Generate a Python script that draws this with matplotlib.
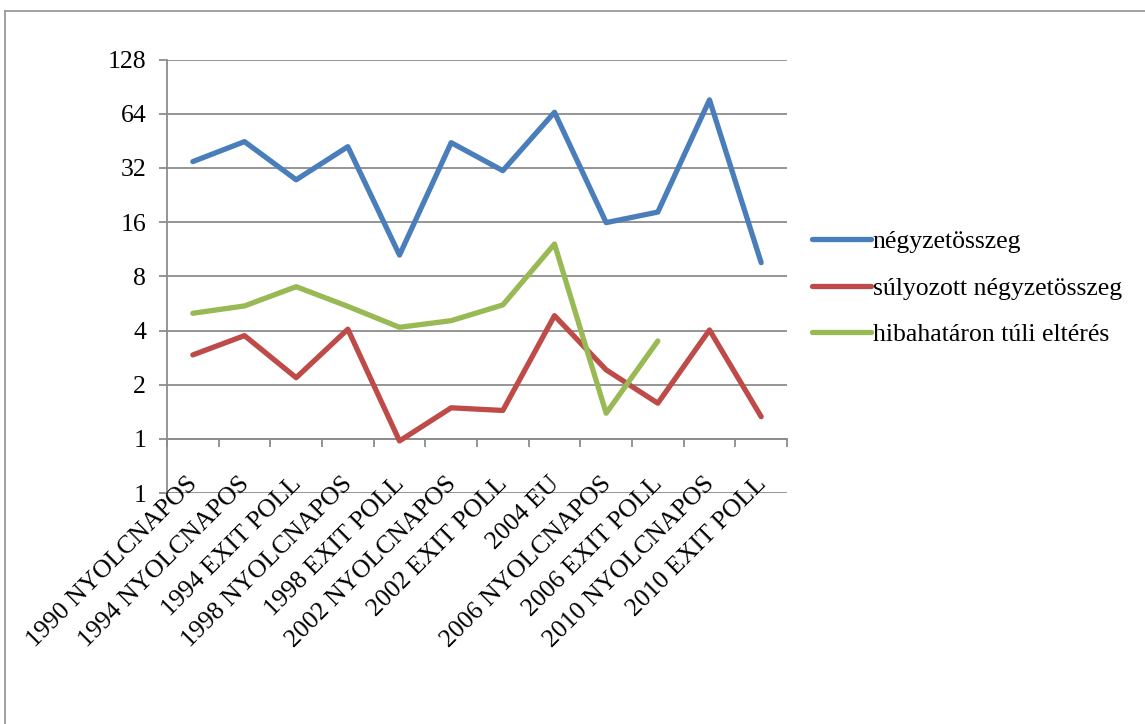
import matplotlib
matplotlib.use("Agg")
import matplotlib.pyplot as plt
from matplotlib.lines import Line2D
import numpy as np

categories = ["1990 NYOLCNAPOS", "1994 NYOLCNAPOS", "1994 EXIT POLL", "1998 NYOLCNAPOS",
              "1998 EXIT POLL", "2002 NYOLCNAPOS", "2002 EXIT POLL", "2004 EU",
              "2006 NYOLCNAPOS", "2006 EXIT POLL", "2010 NYOLCNAPOS", "2010 EXIT POLL"]
negyzetosszeg = [34.7, 44.8, 27.5, 42.0, 10.5, 44.2, 30.9, 65.2, 15.9, 18.2, 76.4, 9.53]
sulyozott = [2.93, 3.75, 2.19, 4.07, 0.975, 1.49, 1.44, 4.84, 2.42, 1.58, 4.03, 1.33]
hibahataron = [4.99, 5.48, 7.01, 5.45, 4.17, 4.54, 5.55, 12.1, 1.39, 3.5]
series_names = ["négyzetösszeg", "súlyozott négyzetösszeg", "hibahatáron túli eltérés"]
y_ticks = [0.5, 1, 2, 4, 8, 16, 32, 64, 128]
y_tick_labels = ["1", "1", "2", "4", "8", "16", "32", "64", "128"]

plt.rcParams['font.family'] = ['Liberation Serif', 'DejaVu Serif']
FS = 18.5

W, H = 1145, 724
fig = plt.figure(figsize=(W / 100, H / 100), dpi=100)
ax = fig.add_axes([167 / W, 1 - 493.2 / H, (787 - 167) / W, (493.2 - 59.5) / H])

colors = ["#4a7ebb", "#be4b48", "#98b954"]
grid_c = "#8c8c8c"

x = np.arange(1, len(categories) + 1)
for vals, c, name in zip([negyzetosszeg, sulyozott, hibahataron], colors, series_names):
    ax.plot(x[:len(vals)], vals, color=c, lw=3.8, solid_capstyle='round',
            solid_joinstyle='round', label=name, zorder=3)

ax.set_yscale('log', base=2)
ax.set_ylim(0.5, 128)
ax.set_xlim(0.5, len(categories) + 0.5)
ax.set_yticks(y_ticks)
ax.set_yticklabels(y_tick_labels)
ax.minorticks_off()
for yv in y_ticks:
    ax.axhline(yv, color=grid_c, lw=1.3, zorder=1)

for s in ['top', 'right']:
    ax.spines[s].set_visible(False)
ax.spines['left'].set_color(grid_c)
ax.spines['left'].set_linewidth(1.3)
ax.spines['bottom'].set_position(('data', 1))
ax.spines['bottom'].set_color(grid_c)
ax.spines['bottom'].set_linewidth(1.3)

ax.tick_params(axis='y', direction='out', length=6, width=1.3, color=grid_c,
               labelsize=FS, pad=9)
ax.set_xticks(np.arange(0.5, len(categories) + 1, 1.0))
ax.set_xticklabels([])
ax.tick_params(axis='x', which='major', direction='out', length=6, width=1.3, color=grid_c)
for xi, cat in zip(x, categories):
    ax.annotate(cat, xy=(xi, 1), xycoords='data', xytext=(-4.5, -24.5),
                textcoords='offset points', rotation=45, ha='right', va='top',
                rotation_mode='anchor', fontsize=FS, annotation_clip=False)
ax.patch.set_alpha(0)

handles = [Line2D([0], [0], color=c, lw=3.8, solid_capstyle='round') for c in colors]
fig.legend(handles, series_names, loc='upper left',
           bbox_to_anchor=(802 / W, 1 - 220 / H), frameon=False, fontsize=FS,
           handlelength=2.3, handletextpad=0.05, labelspacing=0.91,
           borderaxespad=0, borderpad=0.4)

# outer frame
fig.add_artist(Line2D([4.5 / W, 4.5 / W], [0, 1 - 11 / H], transform=fig.transFigure,
                      color="#9a9a9a", lw=1.3))
fig.add_artist(Line2D([4.5 / W, 1], [1 - 11 / H, 1 - 11 / H], transform=fig.transFigure,
                      color="#9a9a9a", lw=1.3))

fig.savefig("out.png", dpi=100)
